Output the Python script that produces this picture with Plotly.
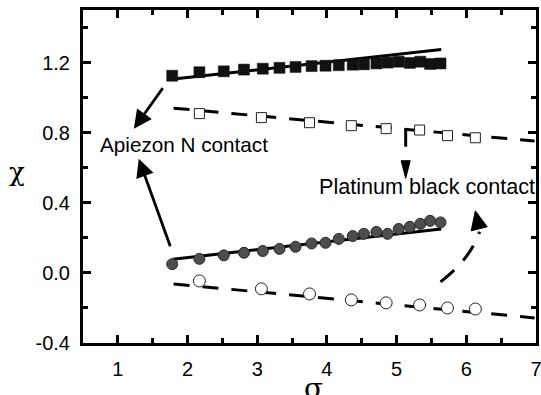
import plotly.graph_objects as go

# ---- data ----
sigma = [1.78, 2.17, 2.52, 2.81, 3.08, 3.32, 3.55, 3.78, 3.98, 4.17,
         4.37, 4.53, 4.71, 4.87, 5.03, 5.19, 5.34, 5.48, 5.63]
chi_apiezon = [1.125, 1.145, 1.150, 1.160, 1.165, 1.170, 1.175, 1.180, 1.182, 1.185,
               1.188, 1.190, 1.195, 1.200, 1.205, 1.198, 1.205, 1.192, 1.195]
chi_apiezon_low = [0.05, 0.08, 0.10, 0.115, 0.125, 0.137, 0.149, 0.168, 0.172, 0.194,
                   0.21, 0.223, 0.234, 0.223, 0.251, 0.263, 0.28, 0.297, 0.288]

sigma_pt = [2.17, 3.06, 3.75, 4.35, 4.85, 5.33, 5.73, 6.13]
chi_pt = [0.909, 0.886, 0.857, 0.840, 0.823, 0.815, 0.783, 0.771]
chi_pt_low = [-0.046, -0.091, -0.120, -0.154, -0.171, -0.183, -0.200, -0.206]

fit_apiezon_x = [1.73, 5.64]
fit_apiezon_y = [1.103, 1.274]
fit_apiezon_low_x = [1.79, 5.64]
fit_apiezon_low_y = [0.078, 0.251]
fit_pt_x = [1.80, 6.98]
fit_pt_y = [0.94, 0.752]
fit_pt_low_x = [1.80, 6.98]
fit_pt_low_y = [-0.063, -0.257]

x_ticks = [1, 2, 3, 4, 5, 6, 7]
y_ticks = [-0.4, 0.0, 0.4, 0.8, 1.2]
y_tick_labels = ["-0.4", "0.0", "0.4", "0.8", "1.2"]

FONT = "Liberation Sans, Arial, sans-serif"
DASH = "16px,13px"

fig = go.Figure()

# fit lines
fig.add_trace(go.Scatter(x=fit_apiezon_x, y=fit_apiezon_y, mode="lines",
                         line=dict(color="black", width=3)))
fig.add_trace(go.Scatter(x=fit_apiezon_low_x, y=fit_apiezon_low_y, mode="lines",
                         line=dict(color="black", width=3)))
fig.add_trace(go.Scatter(x=fit_pt_x, y=fit_pt_y, mode="lines",
                         line=dict(color="black", width=3, dash=DASH)))
fig.add_trace(go.Scatter(x=fit_pt_low_x, y=fit_pt_low_y, mode="lines",
                         line=dict(color="black", width=3, dash=DASH)))

# markers
fig.add_trace(go.Scatter(x=sigma, y=chi_apiezon, mode="markers",
                         marker=dict(symbol="square", size=11, color="#111111",
                                     line=dict(color="#111111", width=0.5))))
fig.add_trace(go.Scatter(x=sigma, y=chi_apiezon_low, mode="markers",
                         marker=dict(symbol="circle", size=11, color="#4d4d4d",
                                     line=dict(color="#2a2a2a", width=1))))
fig.add_trace(go.Scatter(x=sigma_pt, y=chi_pt, mode="markers",
                         marker=dict(symbol="square", size=10, color="white",
                                     line=dict(color="#222222", width=1))))
fig.add_trace(go.Scatter(x=sigma_pt, y=chi_pt_low, mode="markers",
                         marker=dict(symbol="circle", size=12, color="white",
                                     line=dict(color="#222222", width=1))))

# solid arrows toward "Apiezon N contact"
arrow_common = dict(xref="x", yref="y", axref="x", ayref="y", text="",
                    showarrow=True, arrowhead=2, arrowsize=1.3, arrowwidth=2.8,
                    arrowcolor="black")
fig.add_annotation(x=1.23, y=0.823, ax=1.66, ay=1.063, **arrow_common)
fig.add_annotation(x=1.30, y=0.651, ax=1.76, ay=0.143, **arrow_common)

# dashed arrow toward "Platinum black contact" (vertical)
fig.add_shape(type="line", xref="x", yref="y", x0=5.13, y0=0.826, x1=5.13, y1=0.72,
              line=dict(color="black", width=3))
fig.add_shape(type="path", xref="x", yref="y",
              path="M 5.065 0.64 L 5.195 0.64 L 5.13 0.54 Z",
              fillcolor="black", line=dict(color="black", width=1))

# curved dashed arrow
fig.add_shape(type="path", xref="x", yref="y",
              path="M 5.63 -0.051 Q 6.06 0.08 6.19 0.235",
              line=dict(color="black", width=3, dash="18px,13px"))
fig.add_shape(type="path", xref="x", yref="y",
              path="M 6.07 0.24 L 6.30 0.263 L 6.13 0.354 Z",
              fillcolor="black", line=dict(color="black", width=1))

# text labels
fig.add_annotation(x=0.71, y=0.73, xref="x", yref="y", text="Apiezon N contact",
                   showarrow=False, xanchor="left", yanchor="middle",
                   font=dict(family=FONT, size=20.7, color="black"))
fig.add_annotation(x=3.86, y=0.495, xref="x", yref="y", text="Platinum black contact",
                   showarrow=False, xanchor="left", yanchor="middle",
                   font=dict(family=FONT, size=21.6, color="black"))

# axis titles
fig.add_annotation(x=-0.145, y=0.514, xref="paper", yref="paper", text="χ",
                   showarrow=False, xanchor="center", yanchor="middle",
                   font=dict(family="DejaVu Serif, serif", size=26, color="black"))
fig.add_annotation(x=0.508, y=-0.08, xref="paper", yref="paper", text="σ",
                   showarrow=False, xanchor="center", yanchor="top",
                   font=dict(family="DejaVu Serif, serif", size=28, color="black"))

axis_common = dict(showline=True, linecolor="black", linewidth=3, mirror="allticks",
                   ticks="inside", ticklen=8, tickwidth=2.5, tickcolor="black",
                   showgrid=False, zeroline=False, automargin=False,
                   ticklabeloverflow="allow",
                   tickfont=dict(family=FONT, size=20, color="black"))

fig.update_xaxes(range=[0.5, 7.0], tickvals=x_ticks, ticktext=[str(v) for v in x_ticks],
                 minor=dict(ticks="inside", ticklen=5, tickwidth=2.5, tickcolor="black",
                            dtick=0.5, tick0=0.5, showgrid=False),
                 ticklabelstandoff=6, **axis_common)
fig.update_yaxes(range=[-0.4, 1.5], tickvals=y_ticks, ticktext=y_tick_labels,
                 minor=dict(ticks="inside", ticklen=5, tickwidth=2.5, tickcolor="black",
                            dtick=0.2, tick0=-0.4, showgrid=False),
                 ticklabelstandoff=6, **axis_common)

fig.update_layout(width=541, height=395, showlegend=False,
                  margin=dict(l=83, r=5, t=10, b=52),
                  plot_bgcolor="white", paper_bgcolor="white",
                  font=dict(family=FONT, color="black"))

# remove the browser's default 8px body margin so the figure fills the window
fig.write_html("out.html", config={"displayModeBar": False},
               post_script="document.body.style.margin='0';document.body.style.overflow='hidden';")
